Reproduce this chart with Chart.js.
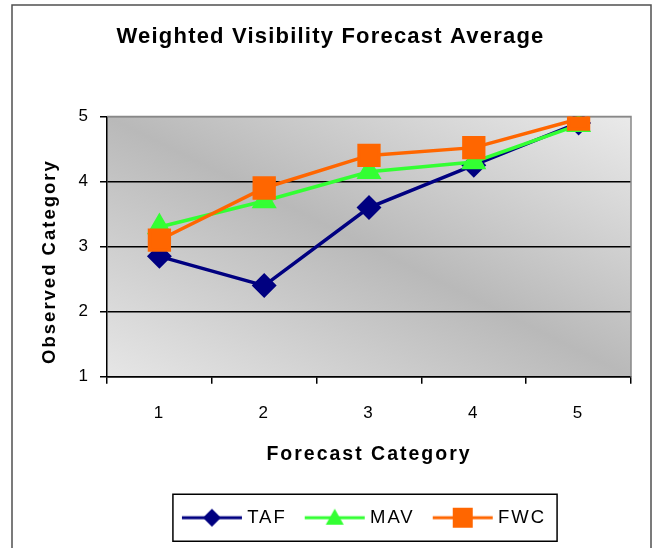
<!DOCTYPE html>
<html>
<head>
<meta charset="utf-8">
<script src="https://cdn.jsdelivr.net/npm/chart.js@4.4.0/dist/chart.umd.min.js"></script>
<style>
  html, body { margin: 0; padding: 0; background: #fff; }
</style>
</head>
<body>
<canvas id="myChart" width="652" height="548"></canvas>
<script>
// chart values
const categories = ['1', '2', '3', '4', '5'];
const tafValues = [2.85, 2.4, 3.6, 4.25, 4.9];
const mavValues = [3.3, 3.7, 4.15, 4.3, 4.87];
const fwcValues = [3.1, 3.9, 4.4, 4.52, 4.96];
const yTicks = [1, 2, 3, 4, 5];

const FONT = '"Liberation Sans", Arial, sans-serif';

// legend sample: short line with the marker in the middle
function legendIcon(color, style) {
    const c = document.createElement('canvas');
    c.width = 62; c.height = 24;
    const g = c.getContext('2d');
    g.strokeStyle = color; g.fillStyle = color; g.lineWidth = 3;
    g.beginPath(); g.moveTo(1, 12); g.lineTo(61, 12); g.stroke();
    g.beginPath();
    if (style === 'rectRot') {
        g.moveTo(31, 3); g.lineTo(40, 12); g.lineTo(31, 21); g.lineTo(22, 12);
    } else if (style === 'triangle') {
        g.moveTo(31, 3); g.lineTo(40, 19); g.lineTo(22, 19);
    } else {
        g.rect(21, 2, 20, 20);
    }
    g.closePath(); g.fill();
    return c;
}

// the picture's text is spaced out a little
const spacedText = {
    id: 'spacedText',
    beforeUpdate(chart) { chart.ctx.letterSpacing = '2px'; },
    beforeDraw(chart) { chart.ctx.letterSpacing = '2px'; },
    afterLayout(chart) {
        const a = chart.chartArea;
        // centre legend on the plot
        const lg = chart.legend;
        lg.left = a.left - 3; lg.right = a.right - 3; lg.width = a.right - a.left;
        // title a bit right of centre, tighter spacing
        const t = chart.titleBlock;
        t.left += 9; t.right += 9;
        if (!t._patched) {
            const drawTitle = t.draw.bind(t);
            t.draw = function () {
                chart.ctx.letterSpacing = '1.2px';
                drawTitle();
                chart.ctx.letterSpacing = '2px';
            };
            t._patched = true;
        }
        // y axis title sits a little below the middle
        const y = chart.scales.y;
        if (!y._patched) {
            const drawYTitle = y.drawTitle.bind(y);
            y.drawTitle = function () {
                chart.ctx.save();
                chart.ctx.translate(0, 15);
                drawYTitle();
                chart.ctx.restore();
            };
            y._patched = true;
        }
    }
};

const plotBackground = {
    id: 'plotBackground',
    beforeDraw(chart) {
        const ctx = chart.ctx;
        const a = chart.chartArea;
        ctx.save();
        ctx.fillStyle = '#fff';
        ctx.fillRect(0, 0, chart.width, chart.height);
        // outer frame
        ctx.strokeStyle = '#505050';
        ctx.lineWidth = 1.5;
        ctx.beginPath();
        ctx.moveTo(12, 560); ctx.lineTo(12, 5); ctx.lineTo(651, 5); ctx.lineTo(651, 560);
        ctx.stroke();
        // gray gradient: light at top-right and bottom-left, dark along the other diagonal
        const w = a.right - a.left, h = a.bottom - a.top;
        const len = Math.sqrt(w * w + h * h);
        const d = w * h / len;
        const cx = (a.left + a.right) / 2, cy = (a.top + a.bottom) / 2;
        const ux = h / len, uy = -w / len;
        const grad = ctx.createLinearGradient(cx + d * ux, cy + d * uy, cx - d * ux, cy - d * uy);
        grad.addColorStop(0, '#eaeaea');
        grad.addColorStop(0.5, '#b9b9b9');
        grad.addColorStop(1, '#e6e6e6');
        ctx.fillStyle = grad;
        ctx.fillRect(a.left, a.top, w, h);
        ctx.restore();
    },
    beforeDatasetsDraw(chart) {
        const ctx = chart.ctx;
        const a = chart.chartArea;
        ctx.save();
        ctx.strokeStyle = '#888';
        ctx.lineWidth = 1.5;
        ctx.beginPath();
        ctx.moveTo(a.left, a.top); ctx.lineTo(a.right, a.top); ctx.lineTo(a.right, a.bottom);
        ctx.stroke();
        ctx.restore();
    }
};

const legendBox = {
    id: 'legendBox',
    afterDraw(chart) {
        const boxes = chart.legend.legendHitBoxes;
        if (!boxes || !boxes.length) return;
        const first = boxes[0], last = boxes[boxes.length - 1];
        const cy = first.top + first.height / 2;
        const ctx = chart.ctx;
        ctx.save();
        ctx.strokeStyle = '#000';
        ctx.lineWidth = 1.5;
        ctx.strokeRect(first.left - 13, cy - 23.5, last.left + last.width - first.left + 24, 47);
        ctx.restore();
    }
};

const ctx = document.getElementById('myChart').getContext('2d');
new Chart(ctx, {
    type: 'line',
    data: {
        labels: categories,
        datasets: [
            { label: 'TAF', data: tafValues, borderColor: '#000080', backgroundColor: '#000080',
              borderWidth: 3.5, pointStyle: 'rectRot', pointRadius: 10, order: 3,
              legendIcon: legendIcon('#000080', 'rectRot') },
            { label: 'MAV', data: mavValues, borderColor: '#33ff33', backgroundColor: '#33ff33',
              borderWidth: 3.5, pointStyle: 'triangle', pointRadius: 11, order: 2,
              legendIcon: legendIcon('#33ff33', 'triangle') },
            { label: 'FWC', data: fwcValues, borderColor: '#ff6600', backgroundColor: '#ff6600',
              borderWidth: 3.5, pointStyle: 'rect', pointRadius: 14, order: 1,
              legendIcon: legendIcon('#ff6600', 'rect') }
        ]
    },
    options: {
        responsive: false,
        animation: false,
        devicePixelRatio: 1,
        layout: { padding: { left: 12, right: 21, top: 5, bottom: 11 } },
        elements: { line: { tension: 0 }, point: { borderWidth: 0 } },
        plugins: {
            tooltip: { enabled: false },
            title: {
                display: true,
                text: 'Weighted Visibility Forecast Average',
                color: '#000',
                font: { family: FONT, size: 22, weight: 'bold' },
                padding: { top: 19, bottom: 66 }
            },
            legend: {
                position: 'bottom',
                labels: {
                    color: '#000',
                    font: { family: FONT, size: 18.5 },
                    usePointStyle: true,
                    pointStyleWidth: 52,
                    padding: 22,
                    generateLabels(chart) {
                        return chart.data.datasets.map((ds, i) => ({
                            text: ds.label,
                            pointStyle: ds.legendIcon,
                            fillStyle: ds.borderColor,
                            strokeStyle: ds.borderColor,
                            lineWidth: 0,
                            hidden: false,
                            datasetIndex: i
                        }));
                    }
                }
            }
        },
        scales: {
            x: {
                offset: true,
                grid: { offset: true, drawOnChartArea: false, color: '#000', lineWidth: 1.5, tickLength: 7 },
                border: { color: '#000', width: 1.5 },
                ticks: { color: '#000', font: { family: FONT, size: 17 }, padding: 19 },
                title: {
                    display: true, text: 'Forecast Category', color: '#000',
                    font: { family: FONT, size: 19.5, weight: 'bold' },
                    padding: { top: 1, bottom: 20 }
                }
            },
            y: {
                min: 1, max: 5,
                afterBuildTicks(scale) { scale.ticks = yTicks.map(v => ({ value: v })); },
                afterFit(scale) { scale.width = 95; },
                grid: {
                    color: c => (c.tick && c.tick.value === 5 ? '#888' : '#000'),
                    lineWidth: 1.5, tickLength: 7,
                    tickColor: '#000'
                },
                border: { color: '#000', width: 1.5 },
                ticks: { color: '#000', font: { family: FONT, size: 17 }, padding: 10 },
                title: {
                    display: true, text: 'Observed Category', color: '#000',
                    font: { family: FONT, size: 18.5, weight: 'bold' },
                    padding: { top: 27, bottom: 0 }
                }
            }
        }
    },
    plugins: [spacedText, plotBackground, legendBox]
});
</script>
</body>
</html>
